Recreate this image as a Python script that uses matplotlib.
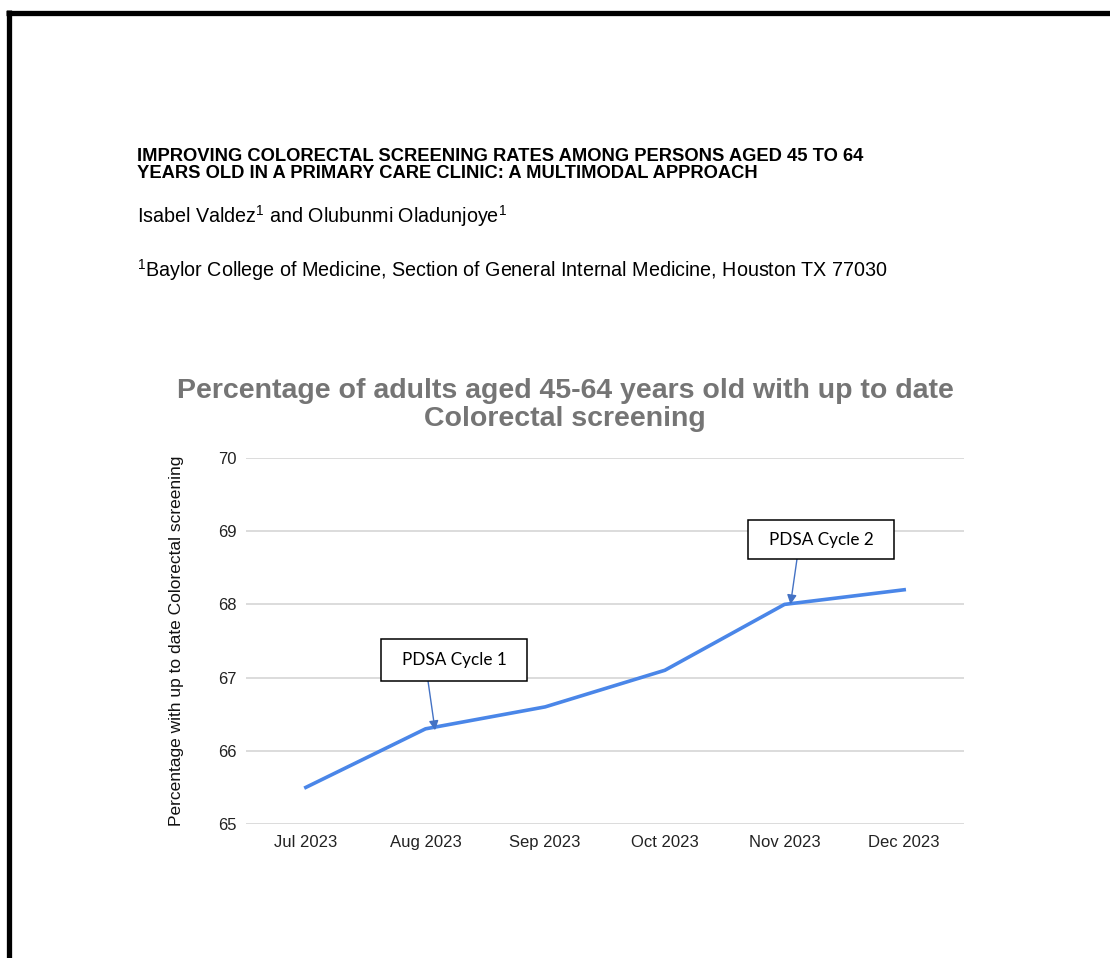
import matplotlib
matplotlib.use("Agg")
import matplotlib.pyplot as plt
from matplotlib.lines import Line2D
from matplotlib.patches import Rectangle

plt.rcParams["font.family"] = ["Liberation Sans", "DejaVu Sans"]
plt.rcParams["mathtext.fontset"] = "custom"
plt.rcParams["mathtext.rm"] = "Liberation Sans"

# Monthly screening rates
months = ["Jul 2023", "Aug 2023", "Sep 2023", "Oct 2023", "Nov 2023", "Dec 2023"]
rates = [65.5, 66.3, 66.6, 67.1, 68.0, 68.2]
y_ticks = [65, 66, 67, 68, 69, 70]

# Intervention markers: (label, index of month)
cycles = [("PDSA Cycle 1", 1), ("PDSA Cycle 2", 4)]

W, H = 1110, 958
fig = plt.figure(figsize=(W / 100, H / 100), dpi=100)
fig.patch.set_facecolor("white")

def fx(px):
    return px / W

def fy(py):
    return 1 - py / H

# Page frame (left and top rules)
fig.add_artist(Line2D([fx(8.5), fx(8.5)], [fy(10), fy(H + 5)], transform=fig.transFigure,
                      color="black", lw=3.8, solid_capstyle="butt"))
fig.add_artist(Line2D([fx(6), fx(W + 5)], [fy(12.5), fy(12.5)], transform=fig.transFigure,
                      color="black", lw=3.8, solid_capstyle="butt"))

# Abstract header
fig.text(fx(137), fy(165),
         "IMPROVING COLORECTAL SCREENING RATES AMONG PERSONS AGED 45 TO 64\n"
         "YEARS OLD IN A PRIMARY CARE CLINIC: A MULTIMODAL APPROACH",
         fontsize=13.2, fontweight="bold", ha="left", va="center", linespacing=0.93)
fig.text(fx(137), fy(216), r"Isabel Valdez$^{1}$ and Olubunmi Oladunjoye$^{1}$",
         fontsize=14.2, ha="left", va="center")
fig.text(fx(137), fy(270), r"$^{1}$Baylor College of Medicine, Section of General Internal Medicine, Houston TX 77030",
         fontsize=14.2, ha="left", va="center")

# Chart title
fig.text(fx(565), fy(405),
         "Percentage of adults aged 45-64 years old with up to date\nColorectal screening",
         fontsize=20.5, fontweight="bold", color="#757575", ha="center", va="center",
         linespacing=1.1)

ax = fig.add_axes([fx(246), fy(824), fx(964) - fx(246), fy(458) - fy(824)])
x = list(range(len(months)))
ax.plot(x, rates, color="#4a86e8", lw=2.6, solid_joinstyle="round", zorder=3)

ax.set_xlim(-0.5, len(months) - 0.5)
ax.set_ylim(y_ticks[0], y_ticks[-1])
ax.set_yticks(y_ticks)
ax.set_yticklabels([str(t) for t in y_ticks])
ax.set_xticks(x)
ax.set_xticklabels(months)
ax.tick_params(axis="both", length=0, labelsize=12, colors="#222222")
ax.tick_params(axis="x", pad=8)
ax.tick_params(axis="y", pad=7)
ax.grid(axis="y", color="#d6d6d6", lw=1.2)
ax.set_axisbelow(True)
for s in ax.spines.values():
    s.set_visible(False)

ax.set_ylabel("Percentage with up to date Colorectal screening", fontsize=12.5,
              color="#111111", labelpad=24)

# Callout boxes with arrows pointing at the intervention months
boxes = [
    # (left, bottom, width, height) in axes fraction, arrow start, tip offset
    ((0.188, 0.3907, 0.2034, 0.1148), (0.2535, 0.3907), (0.08, -0.02)),
    ((0.6992, 0.724, 0.2033, 0.1066), (0.7674, 0.724), (0.05, 0.0)),
]
for (label, idx), (rect, start, off) in zip(cycles, boxes):
    l, b, w, h = rect
    ax.add_patch(Rectangle((l, b), w, h, transform=ax.transAxes, facecolor="white",
                           edgecolor="black", lw=1.1, zorder=5, clip_on=False))
    ax.text(l + w / 2, b + h / 2, label, transform=ax.transAxes, ha="center", va="center",
            fontsize=12.3, family=["Lato", "DejaVu Sans"], zorder=6)
    ax.annotate("", xy=(idx + off[0], rates[idx] + off[1]), xycoords="data",
                xytext=start, textcoords="axes fraction",
                arrowprops=dict(arrowstyle="-|>", color="#4472c4", lw=1.0,
                                mutation_scale=14, shrinkA=0, shrinkB=0),
                zorder=4)

fig.savefig("out.png", dpi=100, facecolor="white")
